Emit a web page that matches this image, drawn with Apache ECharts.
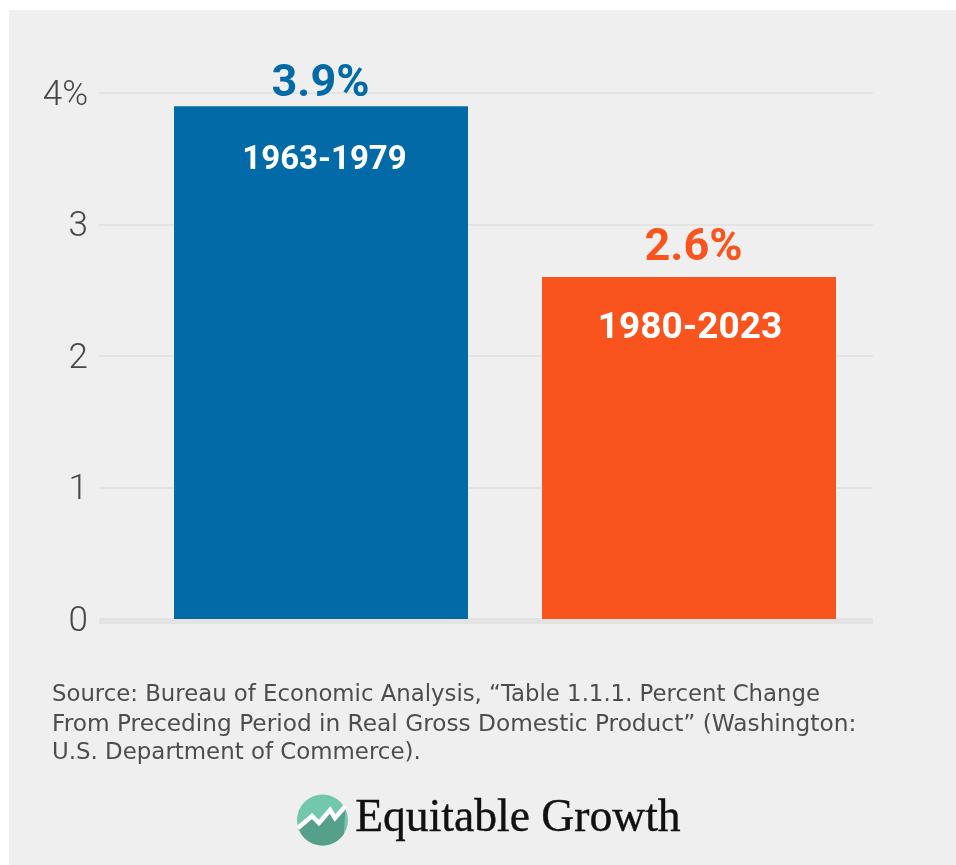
<!DOCTYPE html>
<html>
<head>
<meta charset="utf-8">
<style>
  html, body { margin: 0; padding: 0; background: #fff; }
  #chart { width: 956px; height: 865px; }
</style>
<script src="https://cdn.jsdelivr.net/npm/echarts@6/dist/echarts.min.js"></script>
</head>
<body>
<div id="chart"></div>
<script>
// GDP growth by period
const periods = ['1963-1979', '1980-2023'];
const growth = [3.9, 2.6];
const barColors = ['#026aa7', '#f9531e'];
const yTicks = ['0', '1', '2', '3', '4%'];
const sourceLines = [
  'Source: Bureau of Economic Analysis, “Table 1.1.1. Percent Change',
  'From Preceding Period in Real Gross Domestic Product” (Washington:',
  'U.S. Department of Commerce).'
];
const brand = 'Equitable Growth';

const panel = '#efefef';
const rule = '#e3e3e3';
const ink = '#474747';
const sansBold = 'Roboto';
const sourceSizes = [22.8, 23.25, 22.9];

const chart = echarts.init(document.getElementById('chart'), null, { renderer: 'canvas' });

const sourceText = sourceLines.map((line, i) => ({
  type: 'text', left: 52, top: 684 + i * 29, z: 5,
  style: { text: line, font: sourceSizes[i] + 'px "DejaVu Sans"', fill: '#4d4d4d' }
}));

// Lower part of the brand disc: the zigzag edge, then the rim back round to its start
const zigzag = [[298, 828], [312, 816], [319, 823], [330, 810], [335, 818], [345.5, 806]];
const rim = [];
for (let a = 0.58; a <= 2.82; a += 0.14) {
  rim.push([322.5 + 25.5 * Math.cos(a), 820 + 25.5 * Math.sin(a)]);
}

chart.setOption({
  animation: false,
  backgroundColor: '#ffffff',
  // First grid carries the rules and tick labels, second one holds the narrower bar plot.
  grid: [
    { left: 99, width: 774, top: 93, height: 526 },
    { left: 137, width: 736, top: 93, height: 526 }
  ],
  xAxis: [
    {
      gridIndex: 0, type: 'value', min: 0, max: 1, offset: 2,
      axisLine: { show: true, onZero: false, lineStyle: { color: rule, width: 5, cap: 'butt' } },
      axisTick: { show: false }, axisLabel: { show: false }, splitLine: { show: false }
    },
    {
      gridIndex: 1, type: 'category', data: periods,
      axisLine: { show: false }, axisTick: { show: false }, axisLabel: { show: false }
    }
  ],
  yAxis: [
    {
      gridIndex: 0, type: 'value', min: 0, max: 4, interval: 1,
      axisLine: { show: false }, axisTick: { show: false },
      axisLabel: {
        margin: 11, fontFamily: 'Roboto', fontWeight: 300, fontSize: 35, color: ink,
        verticalAlign: 'top', lineHeight: 6,
        formatter: (v) => yTicks[v]
      },
      splitLine: { lineStyle: { color: rule, width: 2 } }
    },
    {
      gridIndex: 1, type: 'value', min: 0, max: 4, interval: 1, show: false
    }
  ],
  graphic: [
    { type: 'rect', shape: { x: 9, y: 10, width: 947, height: 855 }, style: { fill: panel }, z: -10, silent: true },
    ...sourceText,
    // Brand mark: disc, darker lower part and white rising line
    { type: 'circle', shape: { cx: 322.5, cy: 820, r: 25.5 }, style: { fill: '#72c7ad' }, z: 5 },
    {
      type: 'polygon', z: 6,
      shape: { points: [...zigzag, ...rim] },
      style: { fill: '#559f8b' }
    },
    {
      type: 'polyline', z: 7,
      shape: { points: zigzag },
      style: { stroke: '#ffffff', lineWidth: 4.5, fill: null }
    },
    {
      type: 'text', left: 355, top: 796, z: 5,
      style: { text: brand, font: '45.6px "Liberation Serif"', fill: '#111111', stroke: '#111111', lineWidth: 0.4 }
    }
  ],
  series: [
    {
      type: 'bar', xAxisIndex: 1, yAxisIndex: 1, barWidth: 294, barGap: '-100%',
      data: growth.map((v, i) => ({ value: v, itemStyle: { color: barColors[i] },
        label: { color: barColors[i], distance: i === 0 ? -1 : 6, offset: [i === 0 ? -0.5 : 4.5, 0] } })),
      label: {
        show: true, position: 'top',
        fontFamily: sansBold, fontWeight: 700, fontSize: 45,
        formatter: (p) => p.value.toFixed(1) + '%'
      },
      z: 3
    },
    {
      type: 'bar', xAxisIndex: 1, yAxisIndex: 1, barWidth: 294, barGap: '-100%',
      data: growth.map((v, i) => ({ value: v,
        label: { fontSize: i === 0 ? 33 : 37, offset: [i === 0 ? 3.5 : 1, 0], distance: i === 0 ? 38 : 33 } })),
      itemStyle: { color: 'transparent' },
      label: {
        show: true, position: 'insideTop',
        fontFamily: sansBold, fontWeight: 700, color: '#ffffff',
        formatter: (p) => periods[p.dataIndex]
      },
      z: 4
    }
  ]
});
</script>
</body>
</html>
